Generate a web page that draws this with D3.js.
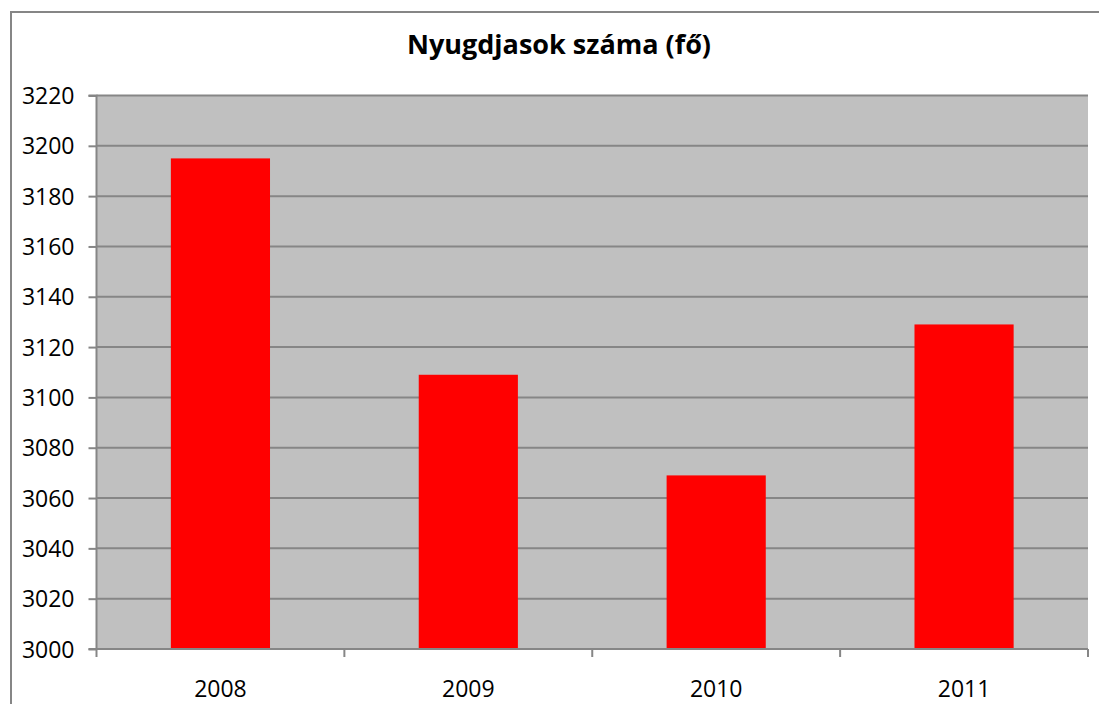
<!DOCTYPE html>
<html>
<head>
<meta charset="utf-8">
<script src="https://cdn.jsdelivr.net/npm/d3@7"></script>
<style>
  html, body { margin: 0; padding: 0; background: #fff; }
  svg { display: block; }
  text { font-family: "Open Sans", "Noto Sans", sans-serif; fill: #000; }
</style>
</head>
<body>
<svg id="chart" width="1099" height="704"></svg>
<script>
// Pensioners per year
const years = ["2008", "2009", "2010", "2011"];
const pensioners = [3195, 3109, 3069, 3129];
const yTicks = [3000, 3020, 3040, 3060, 3080, 3100, 3120, 3140, 3160, 3180, 3200, 3220];
const title = "Nyugdjasok száma (fő)";

const svg = d3.select("#chart");
const W = 1099, H = 704;
const plot = { left: 96.5, right: 1088, top: 95.5, bottom: 649 };

// outer chart frame (runs past the right and bottom edges)
svg.append("rect")
  .attr("x", 11).attr("y", 12)
  .attr("width", W + 20).attr("height", H + 20)
  .attr("fill", "#fff")
  .attr("stroke", "#868686").attr("stroke-width", 2);

const x = d3.scaleBand().domain(years).range([plot.left, plot.right]).paddingInner(0.6).paddingOuter(0.3);
const y = d3.scaleLinear().domain([3000, 3220]).range([plot.bottom, plot.top]);

// plot area background
svg.append("rect")
  .attr("x", plot.left).attr("y", plot.top)
  .attr("width", plot.right - plot.left).attr("height", plot.bottom - plot.top)
  .attr("fill", "#c0c0c0");

// horizontal gridlines
svg.append("g").selectAll("line").data(yTicks.filter(t => t > 3000)).join("line")
  .attr("x1", plot.left).attr("x2", plot.right)
  .attr("y1", d => y(d)).attr("y2", d => y(d))
  .attr("stroke", "#868686").attr("stroke-width", 2);

// bars
svg.append("g").selectAll("rect").data(years).join("rect")
  .attr("x", d => x(d))
  .attr("width", x.bandwidth())
  .attr("y", (d, i) => y(pensioners[i]))
  .attr("height", (d, i) => y(3000) - y(pensioners[i]))
  .attr("fill", "#ff0000");

// y axis
const yAxis = d3.axisLeft(y).tickValues(yTicks).tickSize(8).tickPadding(14).tickFormat(d3.format("d"));
const gy = svg.append("g").attr("transform", `translate(${plot.left},0)`).call(yAxis);
gy.select(".domain").attr("stroke", "#868686").attr("stroke-width", 2).attr("d", `M-8,${plot.top}H0V${plot.bottom}H-8`);
gy.selectAll(".tick line").attr("stroke", "#868686").attr("stroke-width", 2);
gy.selectAll(".tick text").attr("font-size", 23).attr("font-family", "Open Sans").attr("dy", "0.35em").attr("fill", "#000");

// x axis with boundary ticks between categories
const xBounds = d3.range(years.length + 1).map(i => plot.left + i * (plot.right - plot.left) / years.length);
const gx = svg.append("g");
gx.append("line")
  .attr("x1", plot.left).attr("x2", plot.right)
  .attr("y1", plot.bottom).attr("y2", plot.bottom)
  .attr("stroke", "#868686").attr("stroke-width", 2);
gx.selectAll("line.tk").data(xBounds).join("line").attr("class", "tk")
  .attr("x1", d => d).attr("x2", d => d)
  .attr("y1", plot.bottom).attr("y2", plot.bottom + 8)
  .attr("stroke", "#868686").attr("stroke-width", 2);
gx.selectAll("text").data(years).join("text")
  .attr("x", d => x(d) + x.bandwidth() / 2)
  .attr("y", 697)
  .attr("text-anchor", "middle")
  .attr("font-size", 23)
  .text(d => d);

// title
svg.append("text")
  .attr("x", 559).attr("y", 54)
  .attr("text-anchor", "middle")
  .attr("font-size", 27)
  .attr("font-weight", "bold")
  .text(title);
</script>
</body>
</html>
